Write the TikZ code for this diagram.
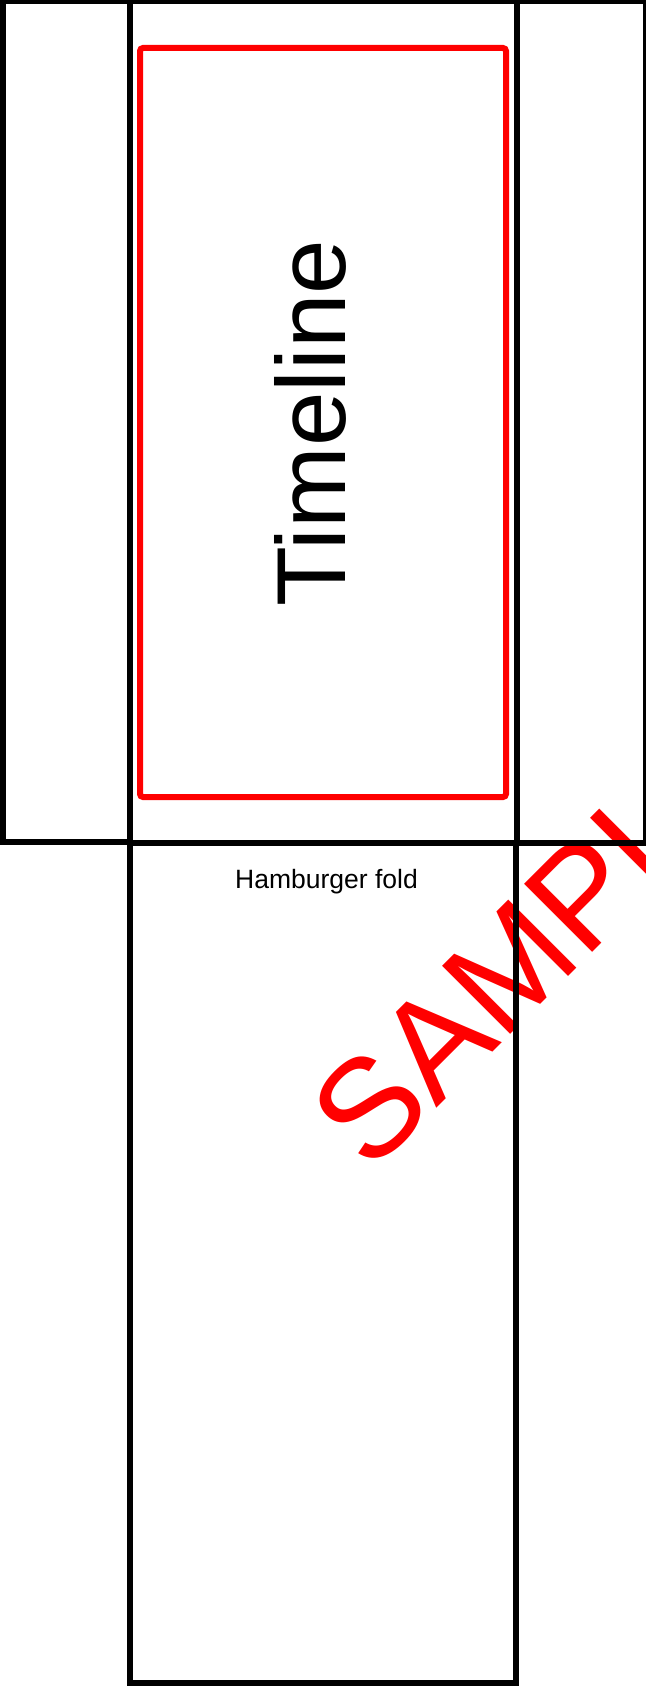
\documentclass[tikz,border=0pt]{standalone}
\usepackage{fontspec}
\setmainfont{Liberation Sans}
\begin{document}
\begin{tikzpicture}[x=1pt,y=-1pt,
  panel/.style={draw=black,line width=6pt,line join=miter},
  redframe/.style={draw=red,line width=6pt,rounded corners=3pt},
  bigtext/.style={inner sep=0pt,font=\fontsize{98}{98}\selectfont},
  foldtext/.style={inner sep=0pt,font=\fontsize{26.5}{26.5}\selectfont},
  stamp/.style={inner sep=0pt,text=red,font=\fontsize{140}{140}\selectfont}]
\useasboundingbox (0,0) rectangle (645,1686);
\fill[white] (0,0) rectangle (645,1686);
% watermark (under the lines)
\node[stamp,rotate=45,anchor=base west] (sample) at (370,1175) {SAMPLE};
% panels
\draw[panel] (2.5,1.5) rectangle (130,842);
\draw[panel] (130,1.5) rectangle (517,843);
\draw[panel] (517,1.5) rectangle (646,843);
\draw[panel] (130,843) rectangle (516,1683);
\draw[redframe] (140,48) rectangle (506,797);
\node[bigtext,rotate=90] (title) at (310.5,423) {Timeline};
\node[foldtext,anchor=base] (fold) at (326.5,888) {Hamburger fold};
\end{tikzpicture}
\end{document}
